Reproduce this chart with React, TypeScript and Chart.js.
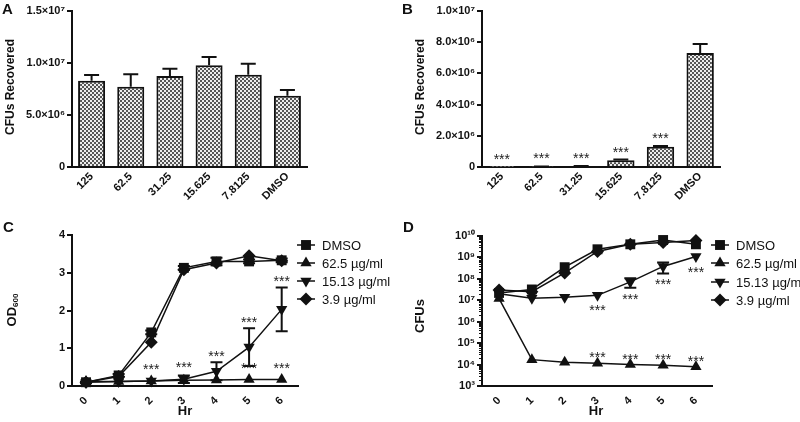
import React, { useEffect, useRef } from 'react';
import { Chart, registerables } from 'chart.js';
Chart.register(...registerables);

const FONT = '"Liberation Sans", Arial, Helvetica, sans-serif';
const INK = '#111';

// ---------- data ----------
const barCategories = ['125', '62.5', '31.25', '15.625', '7.8125', 'DMSO'];
const panelAMeans = [8.3e6, 7.72e6, 8.75e6, 9.78e6, 8.88e6, 6.86e6];
const panelAErrors = [0.55e6, 1.2e6, 0.7e6, 0.8e6, 1.05e6, 0.55e6];
const panelBMeans = [0.01e6, 0.03e6, 0.06e6, 0.43e6, 1.3e6, 7.31e6];
const panelBErrors = [0, 0.01e6, 0.01e6, 0.05e6, 0.04e6, 0.57e6];
const panelBSignificant = [true, true, true, true, true, false];

const hours = [0, 1, 2, 3, 4, 5, 6];
const seriesNames = ['DMSO', '62.5 µg/ml', '15.13 µg/ml', '3.9 µg/ml'];
const seriesMarkers = ['rect', 'triangle', 'triangleDown', 'rectRot'];

const odDMSO = [0.1, 0.28, 1.42, 3.13, 3.3, 3.3, 3.33];
const odDMSOErr = [0.02, 0.04, 0.05, 0.05, 0.1, 0.05, 0.05];
const od625 = [0.12, 0.12, 0.13, 0.15, 0.16, 0.17, 0.17];
const od1513 = [0.1, 0.12, 0.13, 0.18, 0.39, 1.03, 2.03];
const od1513Err = [0, 0, 0, 0.1, 0.24, 0.5, 0.58];
const od39 = [0.1, 0.25, 1.16, 3.08, 3.26, 3.45, 3.32];
// significance marks: [series index, hour index]
const odStarsAbove = [[2, 2], [2, 3], [2, 4], [2, 5], [2, 6], [1, 5], [1, 6]];

const cfuDMSO = [2.2e7, 3.2e7, 3.5e8, 2.4e9, 4.1e9, 6.5e9, 4.1e9];
const cfu625 = [1.2e7, 1.7e4, 1.3e4, 1.15e4, 1.0e4, 9.2e3, 7.9e3];
const cfu1513 = [2.0e7, 1.23e7, 1.38e7, 1.7e7, 7.2e7, 3.8e8, 1.1e9];
const cfu1513Err = [0, 0, 0, 0, 3.4e7, 2.0e8, 0];
const cfu39 = [3.0e7, 2.5e7, 1.9e8, 1.9e9, 4.1e9, 5.0e9, 6.2e9];
const cfuStarsBelow = [[2, 3], [2, 4], [2, 5], [2, 6]];
const cfuStarsAbove = [[1, 3], [1, 4], [1, 5], [1, 6]];

// ---------- helpers ----------
const SUP = '⁰¹²³⁴⁵⁶⁷⁸⁹';
const sup = (n: number) => String(n).split('').map((d) => SUP[+d]).join('');
const sciLabel = (v: number) => {
  if (v === 0) return '0';
  const e = Math.floor(Math.log10(v) + 1e-9);
  return (v / Math.pow(10, e)).toFixed(1) + '×10' + sup(e);
};
const isDecade = (v: number) => {
  const e = Math.log10(v);
  return Math.abs(e - Math.round(e)) < 1e-9;
};

function makePattern(ctx: CanvasRenderingContext2D) {
  const c = document.createElement('canvas');
  c.width = 4;
  c.height = 4;
  const g = c.getContext('2d')!;
  g.fillStyle = '#ececec';
  g.fillRect(0, 0, 4, 4);
  g.fillStyle = '#555555';
  g.fillRect(0, 0, 2, 2);
  g.fillRect(2, 2, 2, 2);
  return ctx.createPattern(c, 'repeat');
}

function drawMarker(ctx: CanvasRenderingContext2D, style: string, x: number, y: number, r: number) {
  ctx.beginPath();
  if (style === 'rect') {
    const s = Math.SQRT1_2 * r;
    ctx.rect(x - s, y - s, 2 * s, 2 * s);
  } else if (style === 'rectRot') {
    ctx.moveTo(x, y - r);
    ctx.lineTo(x + r, y);
    ctx.lineTo(x, y + r);
    ctx.lineTo(x - r, y);
    ctx.closePath();
  } else {
    const dir = style === 'triangle' ? 1 : -1;
    for (let k = 0; k < 3; k++) {
      const a = (k * 2 * Math.PI) / 3;
      const px = x + Math.sin(a) * r;
      const py = y - dir * Math.cos(a) * r;
      if (k === 0) ctx.moveTo(px, py);
      else ctx.lineTo(px, py);
    }
    ctx.closePath();
  }
  ctx.fillStyle = INK;
  ctx.fill();
}

function vText(ctx: CanvasRenderingContext2D, s: string, x: number, y: number, font: string) {
  ctx.save();
  ctx.translate(x, y);
  ctx.rotate(-Math.PI / 2);
  ctx.font = font;
  ctx.fillStyle = INK;
  ctx.textAlign = 'center';
  ctx.textBaseline = 'alphabetic';
  ctx.fillText(s, 0, 0);
  ctx.restore();
}

function hText(ctx: CanvasRenderingContext2D, s: string, x: number, y: number, font: string, align: CanvasTextAlign = 'left') {
  ctx.font = font;
  ctx.fillStyle = INK;
  ctx.textAlign = align;
  ctx.textBaseline = 'alphabetic';
  ctx.fillText(s, x, y);
}

const STAR_FONT = `14px ${FONT}`;
function stars(ctx: CanvasRenderingContext2D, x: number, yCenter: number) {
  ctx.font = STAR_FONT;
  ctx.fillStyle = '#222';
  ctx.textAlign = 'center';
  ctx.textBaseline = 'alphabetic';
  ctx.fillText('***', x, yCenter + 8);
}

function errBar(ctx: CanvasRenderingContext2D, x: number, y0: number, y1: number, cap: number) {
  ctx.strokeStyle = INK;
  ctx.lineWidth = 2;
  ctx.beginPath();
  ctx.moveTo(x, y0);
  ctx.lineTo(x, y1);
  ctx.moveTo(x - cap / 2, y1);
  ctx.lineTo(x + cap / 2, y1);
  ctx.stroke();
}

const tickFont = { family: FONT, size: 11, weight: 'bold' as const };

function yScale(width: number, extra: any) {
  return {
    ...extra,
    border: { display: true, color: INK, width: 2 },
    grid: { display: true, drawOnChartArea: false, color: INK, tickLength: 5, lineWidth: 2, ...(extra.grid || {}) },
    ticks: { color: INK, font: tickFont, padding: 2, autoSkip: false, ...(extra.ticks || {}) },
    afterFit: (s: any) => {
      s.width = width;
    },
  };
}

function xScale(height: number, extra: any) {
  return {
    ...extra,
    border: { display: true, color: INK, width: 2 },
    grid: { display: false, drawTicks: false },
    ticks: { color: INK, font: tickFont, minRotation: 45, maxRotation: 45, autoSkip: false, ...(extra.ticks || {}) },
    afterFit: (s: any) => {
      s.height = height;
    },
  };
}

// ---------- chart builders ----------
function barConfig(ctx: CanvasRenderingContext2D, letter: string, means: number[], errs: number[], max: number, step: number, yWidth: number, rightPad: number, sig: boolean[] | null, titleX: number) {
  return {
    type: 'bar',
    data: {
      labels: barCategories,
      datasets: [
        {
          data: means,
          backgroundColor: makePattern(ctx),
          borderColor: INK,
          borderWidth: 2,
          barPercentage: 0.69,
          categoryPercentage: 1,
        },
      ],
    },
    options: {
      responsive: false,
      animation: false,
      events: [],
      layout: { padding: { left: 0, top: 11, right: rightPad, bottom: 0 } },
      plugins: { legend: { display: false }, tooltip: { enabled: false } },
      scales: {
        x: xScale(44, { ticks: { padding: 3 } }),
        y: yScale(yWidth, { min: 0, max, ticks: { stepSize: step, callback: (v: number) => sciLabel(v) } }),
      },
    },
    plugins: [
      {
        id: 'annot',
        afterDatasetsDraw(chart: any) {
          const c = chart.ctx;
          c.save();
          const meta = chart.getDatasetMeta(0);
          const ys = chart.scales.y;
          means.forEach((m, i) => {
            const x = meta.data[i].x;
            if (errs[i] > 0) errBar(c, x, ys.getPixelForValue(m), ys.getPixelForValue(m + errs[i]), 15);
            if (sig && sig[i]) stars(c, x, ys.getPixelForValue(m + errs[i]) - 11);
          });
          hText(c, letter, 2, 14, `bold 15px ${FONT}`);
          vText(c, 'CFUs Recovered', titleX, 87, `bold 12px ${FONT}`);
          c.restore();
        },
      },
    ],
  };
}

function drawLegend(c: CanvasRenderingContext2D, mx: number, tx: number, rows: number[]) {
  seriesNames.forEach((name, i) => {
    const y = rows[i];
    c.strokeStyle = INK;
    c.lineWidth = 1.5;
    c.beginPath();
    c.moveTo(mx - 9, y);
    c.lineTo(mx + 9, y);
    c.stroke();
    drawMarker(c, seriesMarkers[i], mx, y, seriesMarkers[i] === 'rect' ? 7 : 6.5);
    hText(c, name, tx, y + 4.5, `13px ${FONT}`);
  });
}

function lineDatasets(series: number[][]) {
  return series.map((vals, i) => ({
    label: seriesNames[i],
    data: vals.map((v, k) => ({ x: hours[k], y: v })),
    borderColor: INK,
    borderWidth: 1.5,
    pointStyle: seriesMarkers[i] === 'triangleDown' ? 'triangle' : seriesMarkers[i],
    rotation: seriesMarkers[i] === 'triangleDown' ? 180 : 0,
    pointRadius: seriesMarkers[i] === 'rect' ? 7 : 6.5,
    pointBackgroundColor: INK,
    pointBorderColor: INK,
    pointBorderWidth: 0,
    tension: 0,
    clip: false,
  }));
}

function configC() {
  const series = [odDMSO, od625, od1513, od39];
  const errs: Record<number, number[]> = { 0: odDMSOErr, 2: od1513Err };
  return {
    type: 'line',
    data: { datasets: lineDatasets(series) },
    options: {
      responsive: false,
      animation: false,
      events: [],
      layout: { padding: { left: 0, top: 24, right: 102, bottom: 0 } },
      plugins: { legend: { display: false }, tooltip: { enabled: false } },
      scales: {
        x: xScale(36, { type: 'linear', min: -0.43, max: 6.5, ticks: { stepSize: 1, includeBounds: false, padding: 8 } }),
        y: yScale(72, { min: 0, max: 4, ticks: { stepSize: 1 } }),
      },
    },
    plugins: [
      {
        id: 'annot',
        afterDatasetsDraw(chart: any) {
          const c = chart.ctx;
          c.save();
          const xs = chart.scales.x;
          const ys = chart.scales.y;
          Object.keys(errs).forEach((k) => {
            const si = +k;
            errs[si].forEach((e, i) => {
              if (e <= 0) return;
              const x = xs.getPixelForValue(hours[i]);
              const v = series[si][i];
              errBar(c, x, ys.getPixelForValue(v), ys.getPixelForValue(v + e), 12);
              errBar(c, x, ys.getPixelForValue(v), ys.getPixelForValue(Math.max(v - e, 0)), 12);
            });
          });
          odStarsAbove.forEach(([si, i]) => {
            const v = series[si][i] + ((errs[si] && errs[si][i]) || 0);
            const py = Math.min(ys.getPixelForValue(v), ys.getPixelForValue(series[si][i]) - 6);
            stars(c, xs.getPixelForValue(hours[i]), py - 9);
          });
          hText(c, 'C', 3, 21, `bold 15px ${FONT}`);
          // y title OD600 with subscript
          c.save();
          c.translate(16, 99);
          c.rotate(-Math.PI / 2);
          c.fillStyle = INK;
          c.textBaseline = 'alphabetic';
          c.font = `bold 13px ${FONT}`;
          const w1 = c.measureText('OD').width;
          c.font = `bold 8px ${FONT}`;
          const w2 = c.measureText('600').width;
          const start = -(w1 + w2) / 2;
          c.font = `bold 13px ${FONT}`;
          c.textAlign = 'left';
          c.fillText('OD', start, 0);
          c.font = `bold 8px ${FONT}`;
          c.fillText('600', start + w1, 2);
          c.restore();
          hText(c, 'Hr', 185, 204, `bold 13px ${FONT}`, 'center');
          drawLegend(c, 306, 322, [34, 52, 70, 88]);
          c.restore();
        },
      },
    ],
  };
}

function configD() {
  const series = [cfuDMSO, cfu625, cfu1513, cfu39];
  return {
    type: 'line',
    data: { datasets: lineDatasets(series) },
    options: {
      responsive: false,
      animation: false,
      events: [],
      layout: { padding: { left: 0, top: 25, right: 88, bottom: 0 } },
      plugins: { legend: { display: false }, tooltip: { enabled: false } },
      scales: {
        x: xScale(36, { type: 'linear', min: -0.52, max: 6.49, ticks: { stepSize: 1, includeBounds: false, padding: 8 } }),
        y: yScale(82, {
          type: 'logarithmic',
          min: 1e3,
          max: 1e10,
          grid: {
            tickLength: 5,
            lineWidth: 2,
            color: (ctx: any) => (ctx.tick && isDecade(ctx.tick.value) ? INK : 'rgba(0,0,0,0)'),
          },
          afterBuildTicks: (s: any) => {
            s.ticks = s.ticks.filter((t: any) => {
              const e = Math.floor(Math.log10(t.value) + 1e-9);
              const m = t.value / Math.pow(10, e);
              return Math.abs(m - Math.round(m)) < 1e-6;
            });
          },
          ticks: {
            callback: (v: number) => (isDecade(v) ? '10' + sup(Math.round(Math.log10(v))) : ''),
          },
        }),
      },
    },
    plugins: [
      {
        id: 'annot',
        afterDatasetsDraw(chart: any) {
          const c = chart.ctx;
          c.save();
          const xs = chart.scales.x;
          const ys = chart.scales.y;
          // minor log ticks (shorter)
          c.strokeStyle = INK;
          c.lineWidth = 1;
          c.beginPath();
          ys.ticks.forEach((t: any) => {
            if (isDecade(t.value)) return;
            const py = Math.round(ys.getPixelForValue(t.value)) + 0.5;
            c.moveTo(ys.right - 3, py);
            c.lineTo(ys.right, py);
          });
          c.stroke();
          cfu1513Err.forEach((e, i) => {
            if (e <= 0) return;
            const x = xs.getPixelForValue(hours[i]);
            const v = cfu1513[i];
            errBar(c, x, ys.getPixelForValue(v), ys.getPixelForValue(v + e), 12);
            errBar(c, x, ys.getPixelForValue(v), ys.getPixelForValue(v - e), 12);
          });
          cfuStarsBelow.forEach(([si, i]) => {
            const v = series[si][i] - (cfu1513Err[i] || 0);
            const py = Math.max(ys.getPixelForValue(v), ys.getPixelForValue(series[si][i]) + 4);
            stars(c, xs.getPixelForValue(hours[i]), py + 8);
          });
          cfuStarsAbove.forEach(([si, i]) => {
            stars(c, xs.getPixelForValue(hours[i]), ys.getPixelForValue(series[si][i]) - 9);
          });
          hText(c, 'D', 3, 21, `bold 15px ${FONT}`);
          vText(c, 'CFUs', 23.5, 105, `bold 13px ${FONT}`);
          hText(c, 'Hr', 196, 204, `bold 13px ${FONT}`, 'center');
          drawLegend(c, 320, 336, [34, 52, 71, 89]);
          c.restore();
        },
      },
    ],
  };
}

function Panel({ make, left, top }: { make: (ctx: CanvasRenderingContext2D) => any; left: number; top: number }) {
  const ref = useRef<HTMLCanvasElement>(null);
  useEffect(() => {
    const cv = ref.current!;
    const ctx = cv.getContext('2d')!;
    const chart = new Chart(ctx, make(ctx));
    return () => chart.destroy();
  }, []);
  return (
    <canvas
      ref={ref}
      width={400}
      height={211}
      style={{ position: 'absolute', left, top, width: 400, height: 211 }}
    />
  );
}

export default function App() {
  return (
    <div style={{ position: 'absolute', left: 0, top: 0, width: 800, height: 422, background: '#fff', overflow: 'hidden' }}>
      <Panel
        left={0}
        top={0}
        make={(ctx) => barConfig(ctx, 'A', panelAMeans, panelAErrors, 1.5e7, 5e6, 72, 93, null, 13.5)}
      />
      <Panel
        left={400}
        top={0}
        make={(ctx) => barConfig(ctx, 'B', panelBMeans, panelBErrors, 1e7, 2e6, 82, 80, panelBSignificant, 24)}
      />
      <Panel left={0} top={211} make={() => configC()} />
      <Panel left={400} top={211} make={() => configD()} />
    </div>
  );
}
